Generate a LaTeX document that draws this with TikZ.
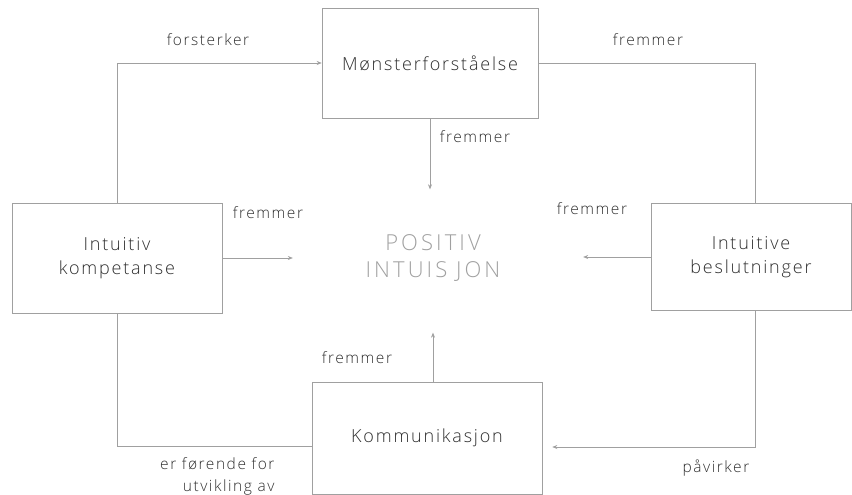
\documentclass[tikz,border=0pt]{standalone}
\usepackage{fontspec}
\setmainfont{Open Sans Light}[LetterSpace=10]
\newfontfamily\hubfont{Open Sans Light}[LetterSpace=14]
\usetikzlibrary{arrows.meta}
\definecolor{ink}{HTML}{2E2E2E}
\definecolor{wire}{HTML}{A0A0A0}
\definecolor{hubtext}{HTML}{A0A0A0}
\tikzset{
  box/.style={draw=wire, line width=0.55pt, rectangle, align=center,
    text=ink, font=\fontsize{18}{24}\selectfont},
  link/.style={draw=wire, line width=0.55pt},
  arr/.style={link, -{Stealth[length=5pt,width=4pt]}},
  lbl/.style={text=ink, font=\fontsize{15.5}{22}\selectfont, align=center},
}
\begin{document}
\begin{tikzpicture}[x=1pt,y=-1pt]
\useasboundingbox (0,0) rectangle (852,495);

% concept boxes
\node[box, minimum width=216, minimum height=110] (M) at (430,63) {Mønsterforståelse};
\node[box, minimum width=210, minimum height=110] (K) at (117,258) {Intuitiv\\kompetanse};
\node[box, minimum width=200, minimum height=107] (B) at (751,257) {Intuitive\\beslutninger};
\node[box, minimum width=230, minimum height=112] (C) at (427,438) {Kommunikasjon};

% central concept and the region its arrows point at
\node[text=hubtext, font=\hubfont\fontsize{22}{27}\selectfont, align=center] (P) at (433,258) {POSITIV\\INTUIS JON};
\node[minimum width=290, minimum height=143, inner sep=0] (hub) at (438,261) {};

% connectors
\draw[arr] (K.north) |- (M.west);
\draw[link] (M.east) -| ([xshift=4pt]B.north);
\draw[arr] (M.south) -- (M.south |- hub.north);
\draw[arr] (K.east) -- (K.east -| hub.west);
\draw[arr] (B.west) -- (B.west -| hub.east);
\draw[arr] ([xshift=6pt]C.north) -- ([xshift=6pt]C.north |- hub.south);
\draw[link] (K.south) |- ([yshift=-8pt]C.west);
\draw[arr] ([xshift=4pt]B.south) |- ([xshift=10pt,yshift=-9pt]C.east);

% connector labels
\node[lbl] (l1) at (208,40) {forsterker};
\node[lbl] (l2) at (648,40) {fremmer};
\node[lbl] (l3) at (475,137) {fremmer};
\node[lbl] (l4) at (268,213) {fremmer};
\node[lbl] (l5) at (592,209) {fremmer};
\node[lbl] (l6) at (357,358) {fremmer};
\node[lbl, align=right, anchor=east] (l7) at (278,476) {er førende for\\utvikling av};
\node[lbl] (l8) at (716,468) {påvirker};
\end{tikzpicture}
\end{document}
